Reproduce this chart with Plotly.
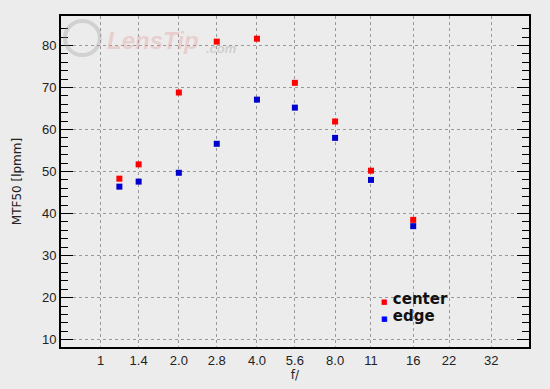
import plotly.graph_objects as go
import math

# ---- data ----
f_numbers = [1.18, 1.4, 2.0, 2.8, 4.0, 5.6, 8.0, 11, 16]
center = [48.3, 51.7, 68.8, 80.9, 81.6, 71.1, 61.9, 50.2, 38.5]
edge = [46.4, 47.6, 49.7, 56.6, 67.1, 65.2, 58.0, 48.0, 37.0]
x_tickvals = [1, 1.4, 2.0, 2.8, 4.0, 5.6, 8.0, 11, 16, 22, 32]
x_ticktext = ["1", "1.4", "2.0", "2.8", "4.0", "5.6", "8.0", "11", "16", "22", "32"]
y_tickvals = [10, 20, 30, 40, 50, 60, 70, 80]
y_minor = [12, 14, 16, 18, 22, 24, 26, 28, 32, 34, 36, 38, 42, 44, 46, 48,
           52, 54, 56, 58, 62, 64, 66, 68, 72, 74, 76, 78, 82, 84]

BG = "#ececec"

fig = go.Figure()
fig.add_trace(go.Scatter(x=f_numbers, y=center, mode="markers", name="center",
                         marker=dict(symbol="square", size=6, color="#ff0000"),
                         showlegend=False))
fig.add_trace(go.Scatter(x=f_numbers, y=edge, mode="markers", name="edge",
                         marker=dict(symbol="square", size=6, color="#0000cc"),
                         showlegend=False))

# watermark
fig.add_annotation(xref="paper", yref="paper", x=0.095, y=0.927, xanchor="left", yanchor="middle",
                   text="<b><i>LensTip</i></b>", showarrow=False,
                   font=dict(family="Liberation Sans", size=24,
                             color="rgba(225,150,150,0.35)"))
fig.add_annotation(xref="paper", yref="paper", x=0.305, y=0.902, xanchor="left", yanchor="middle",
                   text="<b><i>.com</i></b>", showarrow=False,
                   font=dict(family="Liberation Sans", size=13, color="rgba(150,150,150,0.35)"))
fig.add_shape(type="circle", xref="paper", yref="paper", x0=0.0085, x1=0.083, y0=0.882, y1=0.985,
              line=dict(color="rgba(160,160,160,0.35)", width=4))

# legend drawn as annotations
for label, col, yy in [("center", "#ff0000", 0.145), ("edge", "#0000ff", 0.094)]:
    fig.add_annotation(xref="paper", yref="paper", x=0.68, y=yy, xanchor="left", yanchor="middle",
                       text=f"<span style='color:{col};font-size:7px'>■</span> {label}",
                       showarrow=False,
                       font=dict(family="DejaVu Sans", size=15, color="#111111", weight="bold"))

fig.update_xaxes(type="log", range=[math.log10(0.703), math.log10(44.7)],
                 tickmode="array", tickvals=x_tickvals, ticktext=x_ticktext,
                 ticks="", showgrid=True, gridcolor="#999999", griddash="dot", gridwidth=1,
                 showline=True, linecolor="black", linewidth=2, mirror=True,
                 zeroline=False, automargin=False,
                 tickfont=dict(family="Liberation Sans", size=13, color="#222222"),
                 title=dict(text="f/", font=dict(family="DejaVu Sans", size=12, color="#222222"),
                            standoff=4))
fig.update_yaxes(range=[8.25, 87], tickmode="array", tickvals=y_tickvals,
                 ticks="inside", ticklen=12, tickcolor="black", tickwidth=1,
                 minor=dict(tickmode="array", tickvals=y_minor, ticks="inside", ticklen=7,
                            tickcolor="black", tickwidth=1, showgrid=False),
                 showgrid=True, gridcolor="#999999", griddash="dot", gridwidth=1,
                 showline=True, linecolor="black", linewidth=2, mirror="allticks",
                 zeroline=False, automargin=False,
                 tickfont=dict(family="Liberation Sans", size=13, color="#222222"),
                 title=dict(text="MTF50 [lpmm]", font=dict(family="DejaVu Sans", size=12, color="#222222"),
                            standoff=18))

fig.update_layout(width=550, height=389, margin=dict(l=61, r=21, t=16, b=42),
                  paper_bgcolor=BG, plot_bgcolor=BG, showlegend=False)

fig.write_html("out.html", config={"displayModeBar": False},
               post_script="document.body.style.margin='0';")
